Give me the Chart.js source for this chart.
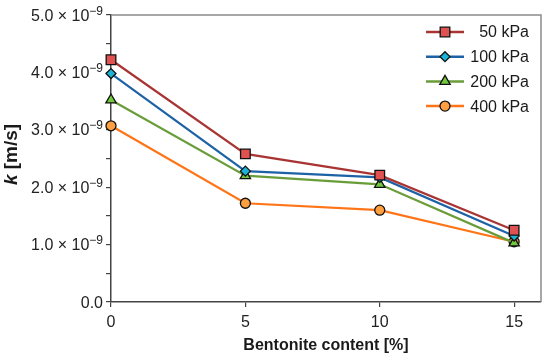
<!DOCTYPE html>
<html>
<head>
<meta charset="utf-8">
<script src="https://cdn.jsdelivr.net/npm/chart.js@4.4.0/dist/chart.umd.min.js"></script>
<style>
  body { margin: 0; background: #fff; }
  #wrap { width: 550px; height: 363px; }
</style>
</head>
<body>
<div id="wrap"><canvas id="chart" width="550" height="363"></canvas></div>
<script>
// Bentonite content [%] and k values (in units of 1e-9 m/s)
var bentonite = [0, 5, 10, 15];
var k50 = [4.22, 2.58, 2.21, 1.25];
var k100 = [3.98, 2.28, 2.17, 1.15];
var k200 = [3.52, 2.20, 2.05, 1.03];
var k400 = [3.07, 1.72, 1.60, 1.05];
var xTicks = [0, 5, 10, 15];
var yLabelValues = [0, 1, 2, 3, 4, 5];
var seriesNames = ['50 kPa', '100 kPa', '200 kPa', '400 kPa'];

var FONT = '"Liberation Sans", Arial, sans-serif';

function pts(vals) {
    return bentonite.map(function (b, i) { return { x: b, y: vals[i] }; });
}

function makeSet(label, vals, line, fill, style, r) {
    return {
        label: label,
        data: pts(vals),
        borderColor: line,
        borderWidth: 2.2,
        pointStyle: style,
        pointRadius: r,
        pointBackgroundColor: fill,
        pointBorderColor: '#111',
        pointBorderWidth: 1.3,
        tension: 0,
        clip: false
    };
}

// frame, y tick labels with exponent, y title, legend with line and marker
var extras = {
    id: 'extras',
    afterDraw: function (chart) {
        var ctx = chart.ctx, a = chart.chartArea, ys = chart.scales.y;
        ctx.save();
        ctx.strokeStyle = '#8a8a8a';
        ctx.lineWidth = 1.5;
        ctx.beginPath();
        ctx.moveTo(a.left, a.top);
        ctx.lineTo(a.right, a.top);
        ctx.lineTo(a.right, a.bottom);
        ctx.stroke();

        // y tick labels: "4.0 × 10^-9"
        ctx.fillStyle = '#222';
        ctx.textBaseline = 'alphabetic';
        ctx.textAlign = 'left';
        var right = a.left - 8;
        yLabelValues.forEach(function (v) {
            var py = ys.getPixelForValue(v) + 5.5;
            if (v === 0) {
                ctx.font = '16px ' + FONT;
                var w = ctx.measureText('0.0').width;
                ctx.fillText('0.0', right - w, py);
                return;
            }
            var main = v.toFixed(1) + ' \u00d7 10';
            var sup = '\u2212' + '9';
            ctx.font = '12px ' + FONT;
            var ws = ctx.measureText(sup).width;
            ctx.fillText(sup, right - ws, py - 6);
            ctx.font = '16px ' + FONT;
            var wm = ctx.measureText(main).width;
            ctx.fillText(main, right - ws - wm, py);
        });
        ctx.restore();

        // y axis title: italic k + [m/s]
        ctx.save();
        ctx.translate(12, (a.top + a.bottom) / 2 - 4);
        ctx.rotate(-Math.PI / 2);
        ctx.fillStyle = '#1a1a1a';
        ctx.textBaseline = 'middle';
        ctx.font = 'italic bold 19px ' + FONT;
        var w1 = ctx.measureText('k').width;
        ctx.font = 'bold 19px ' + FONT;
        var w2 = ctx.measureText(' [m/s]').width;
        var sx = -(w1 + w2) / 2;
        ctx.font = 'italic bold 19px ' + FONT;
        ctx.textAlign = 'left';
        ctx.fillText('k', sx, 0);
        ctx.font = 'bold 19px ' + FONT;
        ctx.fillText(' [m/s]', sx + w1, 0);
        ctx.restore();

        // legend
        ctx.save();
        var lx0 = a.right - 115, lx1 = a.right - 77, textRight = a.right - 12;
        chart.data.datasets.forEach(function (ds, i) {
            var y = a.top + 17 + i * 24.7;
            ctx.strokeStyle = ds.borderColor;
            ctx.lineWidth = 2.5;
            ctx.beginPath();
            ctx.moveTo(lx0, y);
            ctx.lineTo(lx1, y);
            ctx.stroke();
            ctx.fillStyle = ds.pointBackgroundColor;
            ctx.strokeStyle = ds.pointBorderColor;
            ctx.lineWidth = ds.pointBorderWidth;
            Chart.helpers.drawPoint(ctx, {
                pointStyle: ds.pointStyle,
                radius: ds.pointRadius,
                rotation: 0,
                borderWidth: ds.pointBorderWidth
            }, (lx0 + lx1) / 2, y);
            ctx.fillStyle = '#1a1a1a';
            ctx.font = '16px ' + FONT;
            ctx.textAlign = 'right';
            ctx.textBaseline = 'middle';
            ctx.fillText(seriesNames[i], textRight, y + 1);
        });
        ctx.restore();
    }
};

new Chart(document.getElementById('chart'), {
    type: 'line',
    data: {
        datasets: [
            makeSet(seriesNames[0], k50, '#a93434', '#e05252', 'rect', 6.8),
            makeSet(seriesNames[1], k100, '#1e62a6', '#1cb4d6', 'rectRot', 5),
            makeSet(seriesNames[2], k200, '#6a9d3a', '#72c83e', 'triangle', 6),
            makeSet(seriesNames[3], k400, '#ff7417', '#ffa040', 'circle', 5)
        ]
    },
    options: {
        responsive: false,
        animation: false,
        layout: { padding: { left: 0, top: 15, right: 9, bottom: 0 } },
        plugins: { legend: { display: false }, tooltip: { enabled: false } },
        scales: {
            x: {
                type: 'linear',
                min: 0,
                max: 16,
                afterBuildTicks: function (scale) {
                    scale.ticks = xTicks.map(function (v) { return { value: v }; });
                },
                afterFit: function (scale) { scale.height = 61; },
                grid: { drawOnChartArea: false, drawTicks: true, tickLength: 5, color: '#444', lineWidth: 1.2 },
                border: { display: true, color: '#444', width: 1.5 },
                ticks: {
                    padding: 6,
                    color: '#222',
                    font: { family: FONT, size: 16 },
                    callback: function (v) { return String(v); }
                },
                title: {
                    display: true,
                    text: 'Bentonite content [%]',
                    color: '#1a1a1a',
                    font: { family: FONT, size: 16, weight: 'bold' },
                    padding: { top: 4, bottom: 8 }
                }
            },
            y: {
                min: 0,
                max: 5,
                afterFit: function (scale) { scale.width = 111; },
                grid: { drawOnChartArea: false, drawTicks: true, tickLength: 5, color: '#444', lineWidth: 1.2 },
                border: { display: true, color: '#444', width: 1.5 },
                ticks: {
                    stepSize: 0.5,
                    padding: 3,
                    // labels are drawn by the extras plugin (superscript exponent)
                    callback: function () { return ''; }
                }
            }
        }
    },
    plugins: [extras]
});
</script>
</body>
</html>
